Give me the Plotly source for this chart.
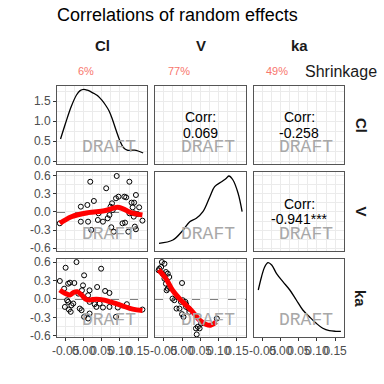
import plotly.graph_objects as go

# ---------------- data ----------------
variables = ["Cl", "V", "ka"]
shrinkage = ["6%", "77%", "49%"]
title_text = "Correlations of random effects"

x_tick_vals = [-0.05, 0.0, 0.05, 0.10, 0.15]
x_tick_text = ["-0.05", "0.00", "0.05", "0.10", "0.15"]
y1_tick_vals = [0.0, 0.5, 1.0, 1.5]
y1_tick_text = ["0.0", "0.5", "1.0", "1.5"]
y23_tick_vals = [-0.6, -0.3, 0.0, 0.3, 0.6]
y23_tick_text = ["-0.6", "-0.3", "0.0", "0.3", "0.6"]

# density of Cl (diagonal 1)
cl_dens_x = [-0.064, -0.05, -0.035, -0.02, -0.01, 0.0, 0.01, 0.02, 0.03, 0.04, 0.05,
             0.06, 0.07, 0.08, 0.09, 0.10, 0.11, 0.12, 0.13, 0.14, 0.15, 0.164]
cl_dens_y = [0.55, 0.95, 1.35, 1.65, 1.76, 1.79, 1.77, 1.73, 1.68, 1.62, 1.52,
             1.40, 1.25, 1.02, 0.75, 0.50, 0.33, 0.27, 0.27, 0.27, 0.25, 0.20]

# density of V (diagonal 2)
v_dens_x = [-0.063, -0.025, 0.003, 0.021, 0.039, 0.057, 0.076, 0.089, 0.108,
            0.121, 0.128, 0.139, 0.153, 0.164]
v_dens_y = [0.37, 0.70, 1.70, 2.53, 2.87, 3.53, 5.03, 6.03, 6.53, 6.87, 7.10,
            6.70, 5.37, 3.53]

# density of ka (diagonal 3)
ka_dens_x = [-0.062, -0.053, -0.044, -0.035, -0.025, -0.012, 0.006, 0.025, 0.043,
             0.061, 0.079, 0.098, 0.116, 0.134, 0.152, 0.166]
ka_dens_y = [4.50, 5.83, 6.83, 7.23, 7.00, 6.17, 5.33, 4.50, 3.50, 2.50, 1.83,
             1.17, 0.67, 0.43, 0.37, 0.37]

# scatter Cl (x) vs V (y)
cl_a = [-0.066, -0.008, 0.012, -0.008, 0.010, 0.018, 0.028, 0.021, 0.039, 0.041,
        0.053, 0.062, 0.066, 0.071, 0.074, 0.078, 0.080, 0.076, 0.083, 0.089,
        0.091, 0.096, 0.107, 0.114, 0.112, 0.117, 0.126, 0.123, 0.126, 0.132,
        0.139, 0.135, 0.139, 0.144, 0.138, 0.141, 0.144, 0.153, 0.162, 0.148]
v_a = [-0.187, -0.160, -0.160, 0.088, 0.116, 0.500, 0.182, -0.297, -0.132, -0.022,
       -0.160, 0.392, -0.104, -0.050, 0.088, 0.144, 0.033, -0.253, -0.326, 0.226,
       0.595, 0.253, -0.187, -0.176, 0.253, 0.242, 0.500, -0.326, -0.022, 0.155,
       0.155, 0.077, -0.022, 0.281, -0.077, -0.242, -0.286, 0.077, -0.143, -0.033]
smooth_a_x = [-0.066, -0.034, 0.012, 0.057, 0.080, 0.094, 0.112, 0.130, 0.162]
smooth_a_y = [-0.187, -0.078, -0.011, 0.021, 0.061, 0.077, 0.044, -0.011, -0.050]

# scatter Cl (x) vs ka (y)
cl_b = [-0.066, -0.050, -0.020, -0.054, -0.043, -0.038, -0.026, -0.046, -0.043,
        -0.052, -0.041, -0.036, -0.034, -0.029, -0.015, -0.011, -0.006, 0.001,
        -0.002, -0.005, 0.012, 0.016, 0.016, 0.001, 0.012, 0.016, 0.037, 0.048,
        0.030, 0.035, 0.044, 0.053, 0.059, 0.071, 0.071, 0.094, 0.089, 0.119, 0.162]
ka_b = [0.292, 0.508, 0.600, 0.167, 0.248, 0.265, 0.259, -0.021, -0.048, -0.130,
        -0.173, -0.210, -0.103, -0.075, 0.086, -0.157, -0.184, 0.384, 0.221, 0.140,
        0.059, 0.140, -0.048, -0.292, -0.319, -0.238, 0.194, 0.492, -0.086, -0.130,
        -0.075, -0.140, 0.130, 0.097, -0.130, -0.140, -0.292, -0.086, -0.173]
smooth_b_x = [-0.066, -0.052, -0.038, -0.029, -0.018, -0.006, 0.006, 0.016, 0.035,
              0.053, 0.080, 0.107, 0.135, 0.162]
smooth_b_y = [0.146, 0.092, 0.065, 0.102, 0.118, 0.065, -0.005, -0.016, -0.005,
              -0.016, -0.060, -0.113, -0.167, -0.190]

# scatter V (x) vs ka (y)
v_c = [-0.064, -0.055, -0.057, -0.048, -0.044, -0.039, -0.035, -0.048, -0.044,
       -0.039, -0.042, -0.026, -0.021, 0.000, -0.015, -0.007, -0.003, 0.002, 0.009,
       0.011, 0.018, 0.020, 0.004, 0.000, 0.038, 0.043, 0.048, 0.040, 0.095, 0.052,
       -0.053, -0.062, -0.035, 0.011]
ka_c = [0.465, 0.600, 0.519, 0.573, 0.438, 0.411, 0.357, 0.330, 0.248, 0.167,
        0.140, 0.005, -0.021, 0.259, -0.157, -0.157, -0.048, -0.021, -0.048, -0.130,
        -0.157, -0.210, -0.292, -0.248, -0.480, -0.454, -0.480, -0.578, -0.319,
        -0.400, 0.411, 0.492, 0.194, -0.086]
smooth_c_x = [-0.064, -0.044, -0.026, -0.007, 0.011, 0.029, 0.048, 0.066, 0.079, 0.093]
smooth_c_y = [0.475, 0.330, 0.141, 0.005, -0.103, -0.211, -0.346, -0.416, -0.427, -0.373]

# correlations (upper panels): (row, col, text)
corr_cells = [(0, 1, "0.069"), (0, 2, "-0.258"), (1, 2, "-0.941***")]

# ---------------- layout helpers ----------------
W = H = 384
FONT = "Liberation Sans"
col_px = [(57, 147), (155, 246), (254, 344)]
row_px = [(86, 164), (172, 251), (259, 337)]
x_range = [-0.0738, 0.1746]
y_ranges = [[-0.075, 1.875], [-0.645, 0.661], [-0.62, 0.65]]
y_minor_start = [0.25, -0.45, -0.45]
y_minor_step = [0.5, 0.3, 0.3]
y_ticks = [(y1_tick_vals, y1_tick_text), (y23_tick_vals, y23_tick_text), (y23_tick_vals, y23_tick_text)]

GRID = "#EBEBEB"
BORDER = "#555555"
TICKFONT = dict(family=FONT, size=12, color="#4D4D4D")


def PX(p):
    return p / W


def PY(p):
    return 1 - p / H


def ax_id(r, c):
    return r * 3 + c + 1


def xref(n):
    return "x" if n == 1 else f"x{n}"


def yref(n):
    return "y" if n == 1 else f"y{n}"


fig = go.Figure()
layout = dict(width=W, height=H, margin=dict(l=0, r=0, t=0, b=0, pad=0, autoexpand=False),
              paper_bgcolor="white", plot_bgcolor="white", showlegend=False,
              font=dict(family=FONT))

for r in range(3):
    for c in range(3):
        n = ax_id(r, c)
        xname = "xaxis" if n == 1 else f"xaxis{n}"
        yname = "yaxis" if n == 1 else f"yaxis{n}"
        layout[xname] = dict(
            domain=[PX(col_px[c][0]), PX(col_px[c][1])], anchor=yref(n), automargin=False,
            range=x_range, tickmode="array", tickvals=x_tick_vals, ticktext=x_tick_text,
            showticklabels=(r == 2), ticks="outside" if r == 2 else "", ticklen=3,
            tickcolor="#333333", tickfont=TICKFONT, tickangle=0,
            showgrid=True, gridcolor=GRID, gridwidth=1, zeroline=False,
            showline=True, linecolor=BORDER, linewidth=1, mirror=True,
            minor=dict(tick0=-0.025, dtick=0.05, showgrid=True,
                       gridcolor=GRID, gridwidth=0.5, ticks=""),
        )
        yt = y_ticks[r]
        layout[yname] = dict(
            domain=[PY(row_px[r][1]), PY(row_px[r][0])], anchor=xref(n),
            automargin=False,
            range=y_ranges[r], tickmode="array", tickvals=yt[0], ticktext=yt[1],
            showticklabels=(c == 0), ticks="outside" if c == 0 else "", ticklen=3,
            tickcolor="#333333", tickfont=TICKFONT,
            showgrid=True, gridcolor=GRID, gridwidth=1, zeroline=False,
            showline=True, linecolor=BORDER, linewidth=1, mirror=True,
            minor=dict(tick0=y_minor_start[r], dtick=y_minor_step[r], showgrid=True,
                       gridcolor=GRID, gridwidth=0.5, ticks=""),
        )

# separate hidden subplots (same domains) for V and ka diagonal densities
for n, r, c, yr in [(10, 1, 1, [-0.4, 7.5]), (11, 2, 2, [-0.2, 7.6])]:
    layout[f"xaxis{n}"] = dict(domain=[PX(col_px[c][0]), PX(col_px[c][1])], anchor=f"y{n}",
                               range=x_range, visible=False, showgrid=False, zeroline=False,
                               automargin=False)
    layout[f"yaxis{n}"] = dict(domain=[PY(row_px[r][1]), PY(row_px[r][0])],
                               anchor=f"x{n}", range=yr, visible=False, showgrid=False,
                               zeroline=False, automargin=False)
fig.update_layout(**layout)

# empty placeholder traces so that every panel subplot is created
for n in range(1, 10):
    fig.add_trace(go.Scatter(x=[], y=[], mode="markers", xaxis=xref(n), yaxis=yref(n),
                             hoverinfo="skip"))

DENS_LINE = dict(color="black", width=1.3, shape="spline")
fig.add_trace(go.Scatter(x=cl_dens_x, y=cl_dens_y, mode="lines", line=DENS_LINE,
                         xaxis="x", yaxis="y"))
fig.add_trace(go.Scatter(x=v_dens_x, y=v_dens_y, mode="lines", line=DENS_LINE,
                         xaxis="x10", yaxis="y10"))
fig.add_trace(go.Scatter(x=ka_dens_x, y=ka_dens_y, mode="lines", line=DENS_LINE,
                         xaxis="x11", yaxis="y11"))

PT = dict(symbol="circle-open", size=5, color="black", line=dict(width=1, color="black"))
RED = dict(color="#FF0000", width=5, shape="spline")
for (px, py, sx, sy, n) in [(cl_a, v_a, smooth_a_x, smooth_a_y, 4),
                            (cl_b, ka_b, smooth_b_x, smooth_b_y, 7),
                            (v_c, ka_c, smooth_c_x, smooth_c_y, 8)]:
    fig.add_trace(go.Scatter(x=px, y=py, mode="markers", marker=PT,
                             xaxis=xref(n), yaxis=yref(n)))
    fig.add_trace(go.Scatter(x=sx, y=sy, mode="lines", line=RED,
                             xaxis=xref(n), yaxis=yref(n)))
    fig.add_shape(type="line", xref=f"x{n} domain", yref=yref(n), x0=0, x1=1, y0=0, y1=0,
                  line=dict(color="black", width=1.2, dash="dash"), layer="below")


def A(**kw):
    base = dict(showarrow=False, xanchor="center", yanchor="middle")
    base.update(kw)
    return base


ann = []
# DRAFT watermark
for r in range(3):
    for c in range(3):
        n = ax_id(r, c)
        ann.append(A(text="DRAFT", xref=f"{xref(n)} domain", yref=f"{yref(n)} domain",
                     x=0.58, y=0.22,
                     font=dict(family="Liberation Mono", size=18, color="#A8A8A8")))
# correlation text
for (r, c, t) in corr_cells:
    n = ax_id(r, c)
    ann.append(A(text="Corr:", xref=f"{xref(n)} domain", yref=f"{yref(n)} domain",
                 x=0.5, y=0.6, font=dict(size=14, color="black")))
    ann.append(A(text=t, xref=f"{xref(n)} domain", yref=f"{yref(n)} domain",
                 x=0.5, y=0.4, font=dict(size=14, color="black")))
# column strips
for c, v in enumerate(variables):
    ann.append(A(text=f"<b>{v}</b>", xref="paper", yref="paper",
                 x=PX((col_px[c][0] + col_px[c][1]) / 2), y=PY(45.5),
                 font=dict(size=15, color="#1A1A1A")))
# row strips
for r, v in enumerate(variables):
    ann.append(A(text=f"<b>{v}</b>", xref="paper", yref="paper",
                 x=PX(361), y=PY((row_px[r][0] + row_px[r][1]) / 2),
                 textangle=90, font=dict(size=15, color="#1A1A1A")))
# shrinkage
shrink_x = [86, 179, 277]
for s, xp in zip(shrinkage, shrink_x):
    ann.append(A(text=s, xref="paper", yref="paper", x=PX(xp), y=PY(71),
                 font=dict(size=11, color="#F8766D")))
ann.append(A(text="Shrinkage", xref="paper", yref="paper", x=PX(340.5), y=PY(71.5),
             font=dict(size=16, color="#1A1A1A")))
# title
ann.append(A(text=title_text, xref="paper", yref="paper", x=PX(55), y=PY(15),
             xanchor="left", font=dict(size=18, color="black")))
fig.update_layout(annotations=ann)

fig.write_html("out.html", config={"displayModeBar": False},
               post_script="document.body.style.margin='0px';document.body.style.padding='0px';")
